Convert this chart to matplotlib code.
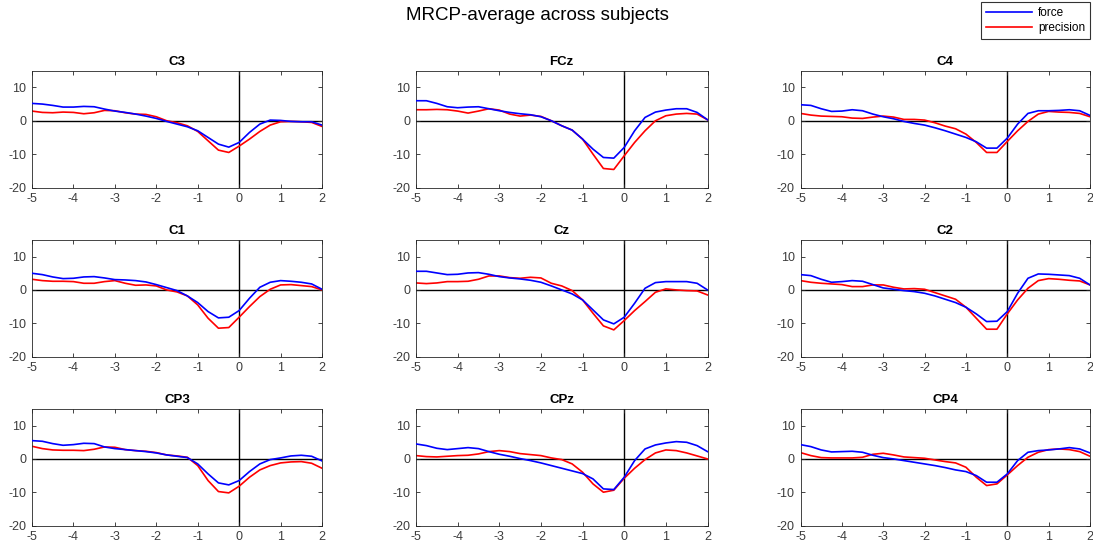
import numpy as np
import matplotlib
matplotlib.use('Agg')
import matplotlib.pyplot as plt

plt.rcParams['font.family'] = ['Liberation Sans', 'DejaVu Sans']
plt.rcParams['axes.unicode_minus'] = False

# time axis (s), sampled every 0.25 s
t = np.arange(-5, 2.001, 0.25)

channels = ['C3', 'FCz', 'C4', 'C1', 'Cz', 'C2', 'CP3', 'CPz', 'CP4']

force_C3 = [5.2, 5.0, 4.6, 4.1, 4.1, 4.3, 4.2, 3.5, 2.9, 2.5, 2.0, 1.4, 0.7, -0.2, -1.0, -1.8, -3.0, -5.0, -7.0, -7.9, -6.5, -3.5, -1.0, 0.2, 0.1, -0.2, -0.3, -0.3, -1.3]
prec_C3 = [2.9, 2.5, 2.4, 2.6, 2.5, 2.1, 2.4, 3.1, 3.0, 2.4, 2.0, 1.9, 1.2, 0.0, -0.6, -1.5, -3.2, -6.0, -8.8, -9.5, -7.6, -5.5, -3.2, -1.3, -0.3, -0.2, -0.3, -0.5, -1.7]

force_FCz = [6.0, 6.0, 5.2, 4.2, 3.9, 4.1, 4.2, 3.6, 3.0, 2.5, 2.1, 1.8, 1.2, 0.0, -1.5, -2.8, -5.5, -8.5, -11.0, -11.2, -8.0, -3.0, 1.0, 2.6, 3.2, 3.6, 3.6, 2.5, 0.3]
prec_FCz = [3.3, 3.3, 3.4, 3.3, 2.9, 2.3, 2.9, 3.6, 3.2, 2.0, 1.4, 1.7, 1.3, 0.0, -1.5, -2.8, -5.5, -10.0, -14.3, -14.6, -10.5, -6.5, -3.0, 0.0, 1.5, 2.0, 2.2, 2.0, 0.3]

force_C4 = [4.8, 4.6, 3.6, 2.8, 2.9, 3.3, 3.0, 2.0, 1.2, 0.6, -0.2, -0.8, -1.3, -2.1, -3.0, -4.0, -5.0, -6.3, -8.2, -8.2, -5.2, -1.0, 2.2, 3.0, 3.0, 3.1, 3.3, 3.0, 1.6]
prec_C4 = [2.2, 1.7, 1.4, 1.3, 1.2, 0.8, 0.7, 1.1, 1.4, 1.1, 0.4, 0.4, 0.2, -0.6, -1.6, -2.4, -4.0, -6.5, -9.5, -9.5, -6.2, -3.0, -0.2, 2.0, 2.8, 2.6, 2.5, 2.2, 1.2]

force_C1 = [5.0, 4.6, 3.9, 3.4, 3.5, 3.9, 4.0, 3.6, 3.1, 3.0, 2.8, 2.4, 1.6, 0.7, -0.2, -1.8, -3.8, -6.5, -8.4, -8.2, -6.2, -2.5, 0.8, 2.3, 2.8, 2.6, 2.3, 1.8, 0.2]
prec_C1 = [3.2, 2.8, 2.6, 2.6, 2.5, 2.0, 2.0, 2.5, 2.8, 2.0, 1.4, 1.5, 1.2, 0.0, -0.6, -1.8, -4.5, -8.5, -11.5, -11.3, -8.2, -5.0, -2.0, 0.2, 1.5, 1.6, 1.3, 1.0, 0.0]

force_Cz = [5.6, 5.6, 5.1, 4.6, 4.7, 5.1, 5.2, 4.7, 4.0, 3.6, 3.3, 2.9, 2.3, 1.2, 0.0, -1.2, -3.0, -6.0, -9.0, -10.2, -8.2, -4.0, 0.5, 2.2, 2.5, 2.5, 2.5, 2.0, 0.0]
prec_Cz = [2.1, 1.9, 2.1, 2.5, 2.5, 2.6, 3.2, 4.2, 4.2, 3.7, 3.5, 3.8, 3.6, 2.0, 1.2, -0.2, -3.0, -7.0, -10.8, -12.0, -9.2, -6.2, -3.5, -0.7, 0.3, 0.0, -0.2, -0.3, -1.5]

force_C2 = [4.6, 4.3, 3.2, 2.3, 2.5, 2.8, 2.6, 1.6, 0.6, 0.2, -0.2, -0.5, -1.0, -1.8, -2.8, -3.8, -5.2, -7.2, -9.5, -9.4, -6.5, -1.0, 3.5, 4.8, 4.7, 4.5, 4.3, 3.5, 1.5]
prec_C2 = [2.8, 2.3, 2.0, 1.8, 1.6, 1.0, 1.0, 1.5, 1.5, 0.8, 0.3, 0.4, 0.2, -0.8, -1.8, -2.8, -5.2, -8.5, -11.8, -11.8, -7.2, -3.0, 0.5, 2.8, 3.4, 3.2, 2.9, 2.7, 1.5]

force_CP3 = [5.5, 5.3, 4.6, 4.1, 4.3, 4.7, 4.6, 3.6, 3.1, 2.8, 2.5, 2.2, 1.8, 1.2, 0.8, 0.4, -1.5, -4.5, -7.2, -7.8, -6.5, -3.8, -1.5, -0.2, 0.3, 0.9, 1.1, 0.8, -0.6]
prec_CP3 = [3.8, 3.1, 2.7, 2.6, 2.6, 2.5, 2.9, 3.6, 3.5, 2.8, 2.5, 2.3, 1.9, 1.2, 0.9, 0.5, -2.0, -6.5, -9.8, -10.2, -8.2, -5.5, -3.3, -2.0, -1.2, -0.9, -0.8, -1.3, -2.8]

force_CPz = [4.5, 4.0, 3.2, 2.8, 3.1, 3.4, 3.1, 2.2, 1.4, 0.8, 0.1, -0.5, -1.2, -2.0, -2.8, -3.6, -4.4, -6.0, -9.0, -9.2, -5.5, -0.5, 3.0, 4.2, 4.8, 5.2, 5.0, 4.0, 2.2]
prec_CPz = [1.0, 0.7, 0.6, 0.8, 1.0, 1.1, 1.5, 2.2, 2.5, 2.2, 1.6, 1.3, 1.0, 0.3, -0.2, -1.5, -4.0, -7.5, -10.0, -9.4, -5.8, -2.8, -0.2, 1.8, 2.7, 2.5, 1.8, 0.9, 0.0]

force_CP4 = [4.3, 3.7, 2.7, 2.1, 2.2, 2.3, 2.0, 1.1, 0.4, 0.0, -0.5, -1.0, -1.5, -2.0, -2.6, -3.3, -3.8, -5.0, -7.0, -7.0, -4.5, -0.5, 2.0, 2.5, 2.7, 3.0, 3.4, 3.0, 1.8]
prec_CP4 = [1.9, 1.0, 0.4, 0.3, 0.3, 0.3, 0.5, 1.4, 1.7, 1.2, 0.6, 0.4, 0.2, -0.3, -0.8, -1.2, -2.5, -5.5, -8.0, -7.5, -4.8, -2.0, 0.5, 2.0, 2.8, 3.0, 2.8, 2.2, 0.8]

force = [force_C3, force_FCz, force_C4, force_C1, force_Cz, force_C2, force_CP3, force_CPz, force_CP4]
precision = [prec_C3, prec_FCz, prec_C4, prec_C1, prec_Cz, prec_C2, prec_CP3, prec_CPz, prec_CP4]

W, H = 1093, 548
fig = plt.figure(figsize=(W / 100, H / 100), dpi=100)

# axes boxes in pixels (left, top, right, bottom)
col_x = [(32, 322), (416, 707.5), (800.5, 1090)]
row_y = [(70.7, 187.5), (240, 356.5), (409, 525.5)]

dark = '#262626'
for i, ch in enumerate(channels):
    r, c = divmod(i, 3)
    x0, x1 = col_x[c]
    y0, y1 = row_y[r]
    ax = fig.add_axes([x0 / W, 1 - y1 / H, (x1 - x0) / W, (y1 - y0) / H])
    ax.axhline(0, color='black', lw=1.0, zorder=1)
    ax.axvline(0, color='black', lw=1.0, zorder=1)
    lf, = ax.plot(t, force[i], color='#0000ff', lw=1.2, label='force', zorder=3)
    lp, = ax.plot(t, precision[i], color='#ff0000', lw=1.2, label='precision', zorder=2)
    ax.set_xlim(-5, 2)
    ax.set_ylim(-20, 15)
    ax.set_xticks(range(-5, 3))
    ax.set_yticks([-20, -10, 0, 10])
    ax.tick_params(direction='in', length=3, width=0.6, top=True, right=True,
                   labelsize=9, colors=dark, labelcolor='#3c3c3c', pad=4)
    for s in ax.spines.values():
        s.set_color(dark)
        s.set_linewidth(0.6)
    ax.set_title(ch, fontsize=9.5, fontweight='bold', pad=4)

fig.text(537 / W, 1 - 16 / H, 'MRCP-average across subjects', ha='center', va='center', fontsize=13.5)

leg = fig.legend([lf, lp], ['force', 'precision'], loc='upper right',
                 bbox_to_anchor=(1090 / W, 1 - 2 / H), fontsize=8.5, frameon=True,
                 fancybox=False, edgecolor='black', handlelength=3.9,
                 borderpad=0.4, labelspacing=0.3, handletextpad=0.5, borderaxespad=0)
leg.get_frame().set_linewidth(0.8)

fig.savefig('out.png', dpi=100)
